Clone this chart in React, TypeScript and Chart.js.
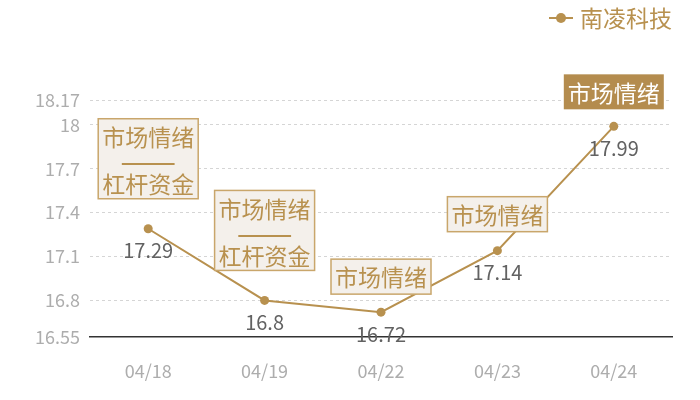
import { useEffect, useRef } from 'react';
import { Chart, registerables } from 'chart.js';

Chart.register(...registerables);

const dates = ['04/18', '04/19', '04/22', '04/23', '04/24'];
const prices = [17.29, 16.8, 16.72, 17.14, 17.99];
const yTicks = [16.55, 16.8, 17.1, 17.4, 17.7, 18, 18.17];
const tags = [['市场情绪', '杠杆资金'], ['市场情绪', '杠杆资金'], ['市场情绪'], ['市场情绪'], ['市场情绪']];
const seriesName = '南凌科技';

const GOLD = '#b8914f';
const GOLD_DARK = '#b48c4e';
const BOX_BG = '#f4f0eb';
const BOX_BORDER = '#c9a66b';
const FONT = '"Noto Sans CJK SC", "Noto Sans", sans-serif';

// gap between tag box bottom and the point, px
const tagGaps = [30, 30, 18, 19, 17];
const highlightIndex = 4;

const labelsPlugin = {
  id: 'valueLabels',
  afterDatasetsDraw(chart: Chart) {
    const ctx = chart.ctx;
    const meta = chart.getDatasetMeta(0);
    ctx.save();
    ctx.font = `20px ${FONT}`;
    ctx.fillStyle = '#626262';
    ctx.textAlign = 'center';
    ctx.textBaseline = 'middle';
    meta.data.forEach((pt: any, i: number) => {
      ctx.fillText(String(prices[i]), pt.x, pt.y + 22);
    });
    ctx.restore();
  },
};

const tagsPlugin = {
  id: 'tagBoxes',
  afterDatasetsDraw(chart: Chart) {
    const ctx = chart.ctx;
    const meta = chart.getDatasetMeta(0);
    meta.data.forEach((pt: any, i: number) => {
      const lines = tags[i];
      const filled = i === highlightIndex;
      const w = 100;
      const h = lines.length > 1 ? 80 : 35;
      const top = pt.y - tagGaps[i] - h;
      const left = pt.x - w / 2;
      ctx.save();
      ctx.fillStyle = filled ? GOLD_DARK : BOX_BG;
      ctx.fillRect(left, top, w, h);
      if (!filled) {
        ctx.strokeStyle = BOX_BORDER;
        ctx.lineWidth = 1.5;
        ctx.strokeRect(left, top, w, h);
      }
      ctx.fillStyle = filled ? '#fff' : GOLD;
      ctx.textAlign = 'center';
      ctx.textBaseline = 'middle';
      ctx.font = `23px ${FONT}`;
      if (lines.length > 1) {
        ctx.fillText(lines[0], pt.x, top + 19);
        ctx.font = `bold 22px ${FONT}`;
        ctx.fillText('———', pt.x, top + 43);
        ctx.font = `23px ${FONT}`;
        ctx.fillText(lines[1], pt.x, top + 66);
      } else {
        ctx.fillText(lines[0], pt.x, top + h / 2 + 1);
      }
      ctx.restore();
    });
  },
};

const legendPlugin = {
  id: 'topLegend',
  afterDraw(chart: Chart) {
    const ctx = chart.ctx;
    const y = 18;
    ctx.save();
    ctx.strokeStyle = GOLD;
    ctx.lineWidth = 2;
    ctx.beginPath();
    ctx.moveTo(549, y);
    ctx.lineTo(573, y);
    ctx.stroke();
    ctx.fillStyle = GOLD;
    ctx.beginPath();
    ctx.arc(561, y, 5, 0, Math.PI * 2);
    ctx.fill();
    ctx.font = `23px ${FONT}`;
    ctx.textAlign = 'left';
    ctx.textBaseline = 'middle';
    ctx.fillText(chart.data.datasets[0].label || '', 580, y);
    ctx.restore();
  },
};

export default function App() {
  const canvasRef = useRef<HTMLCanvasElement>(null);
  const chartRef = useRef<Chart | null>(null);

  useEffect(() => {
    document.body.style.margin = '0';
    if (!canvasRef.current) return;
    if (chartRef.current) chartRef.current.destroy();

    chartRef.current = new Chart(canvasRef.current, {
      type: 'line',
      data: {
        labels: dates,
        datasets: [
          {
            label: seriesName,
            data: prices,
            borderColor: GOLD,
            backgroundColor: GOLD,
            borderWidth: 2,
            pointRadius: 4.5,
            pointBackgroundColor: GOLD,
            pointBorderWidth: 0,
            tension: 0,
          },
        ],
      },
      options: {
        animation: false,
        responsive: true,
        maintainAspectRatio: false,
        layout: { padding: { top: 100, right: 28, left: 0, bottom: 0 } },
        plugins: {
          legend: { display: false },
          tooltip: { enabled: false },
        },
        scales: {
          x: {
            offset: true,
            grid: { display: false, drawTicks: false },
            border: { display: true, color: '#333', width: 1.5 },
            ticks: {
              color: '#adadad',
              font: { family: FONT, size: 18 },
              padding: 23,
            },
            afterFit(scale: any) {
              scale.height = 63;
            },
          },
          y: {
            min: 16.55,
            max: 18.17,
            afterBuildTicks(scale: any) {
              scale.ticks = yTicks.map((v) => ({ value: v }));
            },
            afterFit(scale: any) {
              scale.width = 90;
            },
            border: { display: false, dash: [3, 3] },
            grid: {
              drawTicks: false,
              color: (c: any) => (c.tick && c.tick.value === 16.55 ? 'rgba(0,0,0,0)' : '#d5d5d5'),
            },
            ticks: {
              color: '#adadad',
              font: { family: FONT, size: 18 },
              padding: 10,
              callback: (v: any) => String(v),
            },
          },
        },
      },
      plugins: [labelsPlugin, tagsPlugin, legendPlugin],
    });

    return () => {
      if (chartRef.current) {
        chartRef.current.destroy();
        chartRef.current = null;
      }
    };
  }, []);

  return (
    <div style={{ width: 700, height: 400, position: 'relative' }}>
      <canvas ref={canvasRef} />
    </div>
  );
}
